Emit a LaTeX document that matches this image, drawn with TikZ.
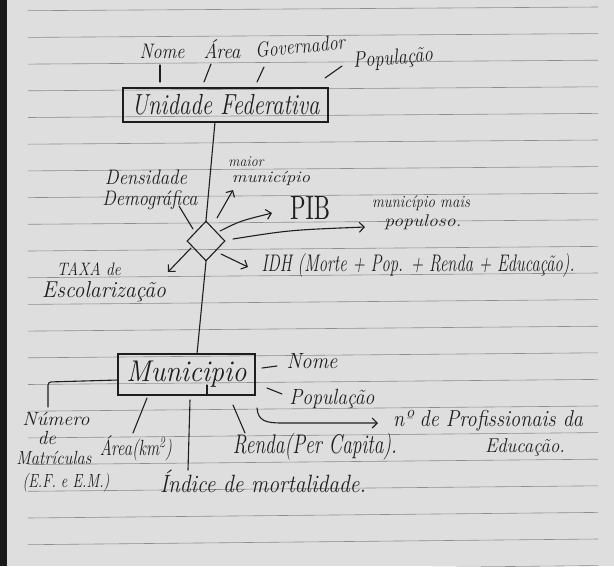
\documentclass[tikz,border=0pt]{standalone}
\usepackage{fontspec}
\usetikzlibrary{shapes.geometric,arrows.meta}
\definecolor{ink}{HTML}{1E1E1E}
\definecolor{paper}{HTML}{DEDEDE}
\definecolor{ruled}{HTML}{8E8E8E}
\newcommand{\hw}[3][20]{\resizebox{#2pt}{\height}{\fontsize{#1pt}{#1pt}\selectfont\itshape #3}}
\begin{document}
\begin{tikzpicture}[x=1pt,y=-1pt,
  txt/.style={inner sep=0pt, text=ink},
  conn/.style={draw=ink, line width=1.1pt, line cap=round, line join=round},
  arr/.style={conn, -{Straight Barb[length=5pt,width=10pt,line width=1.1pt]}},
  entity/.style={draw=ink, line width=1.1pt, rectangle, inner sep=0pt, text=ink},
  relship/.style={draw=ink, line width=1.1pt, diamond, inner sep=0pt, minimum width=38pt, minimum height=40pt}]
\useasboundingbox (0,0) rectangle (614,566);
\begin{scope}
\clip (0,0) rectangle (614,566);
\fill[paper] (0,0) rectangle (614,566);
\fill[black!90] (0,0) rectangle (7,566);
\foreach \k in {0,...,21} { \draw[ruled, line width=0.6pt] (28,{10.7+26.7*\k}) -- (598,{7+26.6*\k}); }
\end{scope}

% entities and relationship
\node[entity, minimum width=205pt, minimum height=34pt] (uf) at (225.5,105) {\hw[29]{188}{Unidade Federativa}};
\node[entity, minimum width=137pt, minimum height=41pt] (mun) at (186.5,374.5) {\hw[30]{120}{Municipio}};
\node[relship] (rel) at (206,241) {};

% attributes of Unidade Federativa
\node[txt] (ufnome) at (162,51) {\hw[21]{45}{Nome}};
\node[txt] (ufarea) at (222,49) {\hw[21]{37}{Área}};
\node[txt, rotate=6] (ufgov) at (300,46) {\hw[21]{90}{Governador}};
\node[txt, rotate=5] (ufpop) at (393,59) {\hw[22]{80}{População}};

% attributes of relationship
\node[txt] (dens1) at (146,177) {\hw[21]{82}{Densidade}};
\node[txt] (dens2) at (150,200) {\hw[21]{95}{Demográfica}};
\node[txt] (maior1) at (246,162) {\hw[15]{35}{maior}};
\node[txt] (maior2) at (271,178) {\hw[16]{78}{município}};
\node[txt] (pib) at (310,208) {\resizebox{40pt}{23pt}{PIB}};
\node[txt] (pop1) at (421,203) {\hw[17]{98}{município mais}};
\node[txt] (pop2) at (423,222) {\hw[17]{77}{populoso.}};
\node[txt] (idh) at (418,266) {\hw[24]{313}{IDH (Morte + Pop. + Renda + Educação).}};
\node[txt] (taxa1) at (89,269) {\hw[18]{64}{TAXA de}};
\node[txt] (taxa2) at (104,292) {\hw[23]{124}{Escolarização}};

% attributes of Municipio
\node[txt] (mnome) at (312,361) {\hw[22]{51}{Nome}};
\node[txt] (mpop) at (332,399) {\hw[22]{85}{População}};
\node[txt] (prof1) at (488,421) {\hw[23]{190}{nº de Profissionais da}};
\node[txt] (prof2) at (525,447) {\hw[20]{80}{Educação.}};
\node[txt] (renda) at (315,447) {\hw[27]{164}{Renda(Per Capita).}};
\node[txt] (indice) at (263,481) {\hw[25]{206}{Índice de mortalidade.}};
\node[txt] (marea) at (136,448) {\hw[22]{72}{Área(km\textsuperscript{2})}};
\node[txt] (num1) at (56,419) {\hw[19]{67}{Número}};
\node[txt] (num2) at (47,438) {\hw[19]{18}{de}};
\node[txt] (num3) at (54,458) {\hw[19]{75}{Matrículas}};
\node[txt] (num4) at (66,483) {\hw[19]{87}{(E.F. e E.M.)}};

% connector end points
\coordinate (c1a) at (160,65); \coordinate (c1b) at (160,82);
\coordinate (c2a) at (211,64); \coordinate (c2b) at (204,82);
\coordinate (c3a) at (264,67); \coordinate (c3b) at (257,82);
\coordinate (c4a) at (342,66); \coordinate (c4b) at (325,78);
\coordinate (ufdown) at (215,122);
\coordinate (d1a) at (179,206); \coordinate (d1b) at (193,229);
\coordinate (r1) at (217,218); \coordinate (r1t) at (233,190);
\coordinate (r2) at (220,231); \coordinate (r2t) at (272,213);
\coordinate (r3) at (233,239); \coordinate (r3t) at (365,227);
\coordinate (r4) at (221,254); \coordinate (r4t) at (248,267);
\coordinate (r5) at (191,248); \coordinate (r5t) at (168,272);
\coordinate (munup) at (197,354);
\coordinate (mleft) at (118,380); \coordinate (mnum) at (48,407);
\coordinate (ma1) at (147,398); \coordinate (ma2) at (133,433);
\coordinate (mi1) at (190,400); \coordinate (mi2) at (188,470);
\coordinate (mr1) at (233,405); \coordinate (mr2) at (245,433);
\coordinate (mn1) at (262,368); \coordinate (mn2) at (277,366);
\coordinate (mp1) at (267,388); \coordinate (mp2) at (282,394);
\coordinate (mc1) at (257,408); \coordinate (mc2) at (378,423);
\coordinate (tk1) at (207,385); \coordinate (tk2) at (207,395);

% connectors
\draw[conn] (c1a) -- (c1b);
\draw[conn] (c2a) -- (c2b);
\draw[conn] (c3a) -- (c3b);
\draw[conn] (c4a) -- (c4b);
\draw[conn] (ufdown) -- (rel.north);
\draw[conn] (d1a) -- (d1b);
\draw[arr] (r1) -- (r1t);
\draw[arr] (r2) .. controls (240,221) .. (r2t);
\draw[arr] (r3) .. controls (290,230) .. (r3t);
\draw[arr] (r4) -- (r4t);
\draw[arr] (r5) -- (r5t);
\draw[conn] (rel.south) -- (munup);
\draw[conn, rounded corners=3pt] (mleft) -- (48,382) -- (mnum);
\draw[conn] (ma1) -- (ma2);
\draw[conn] (mi1) -- (mi2);
\draw[conn] (mr1) -- (mr2);
\draw[conn] (mn1) -- (mn2);
\draw[conn] (mp1) -- (mp2);
\draw[arr] (mc1) .. controls (258,421) and (266,423) .. (282,423) -- (mc2);
\draw[conn] (tk1) -- (tk2);
\end{tikzpicture}
\end{document}
